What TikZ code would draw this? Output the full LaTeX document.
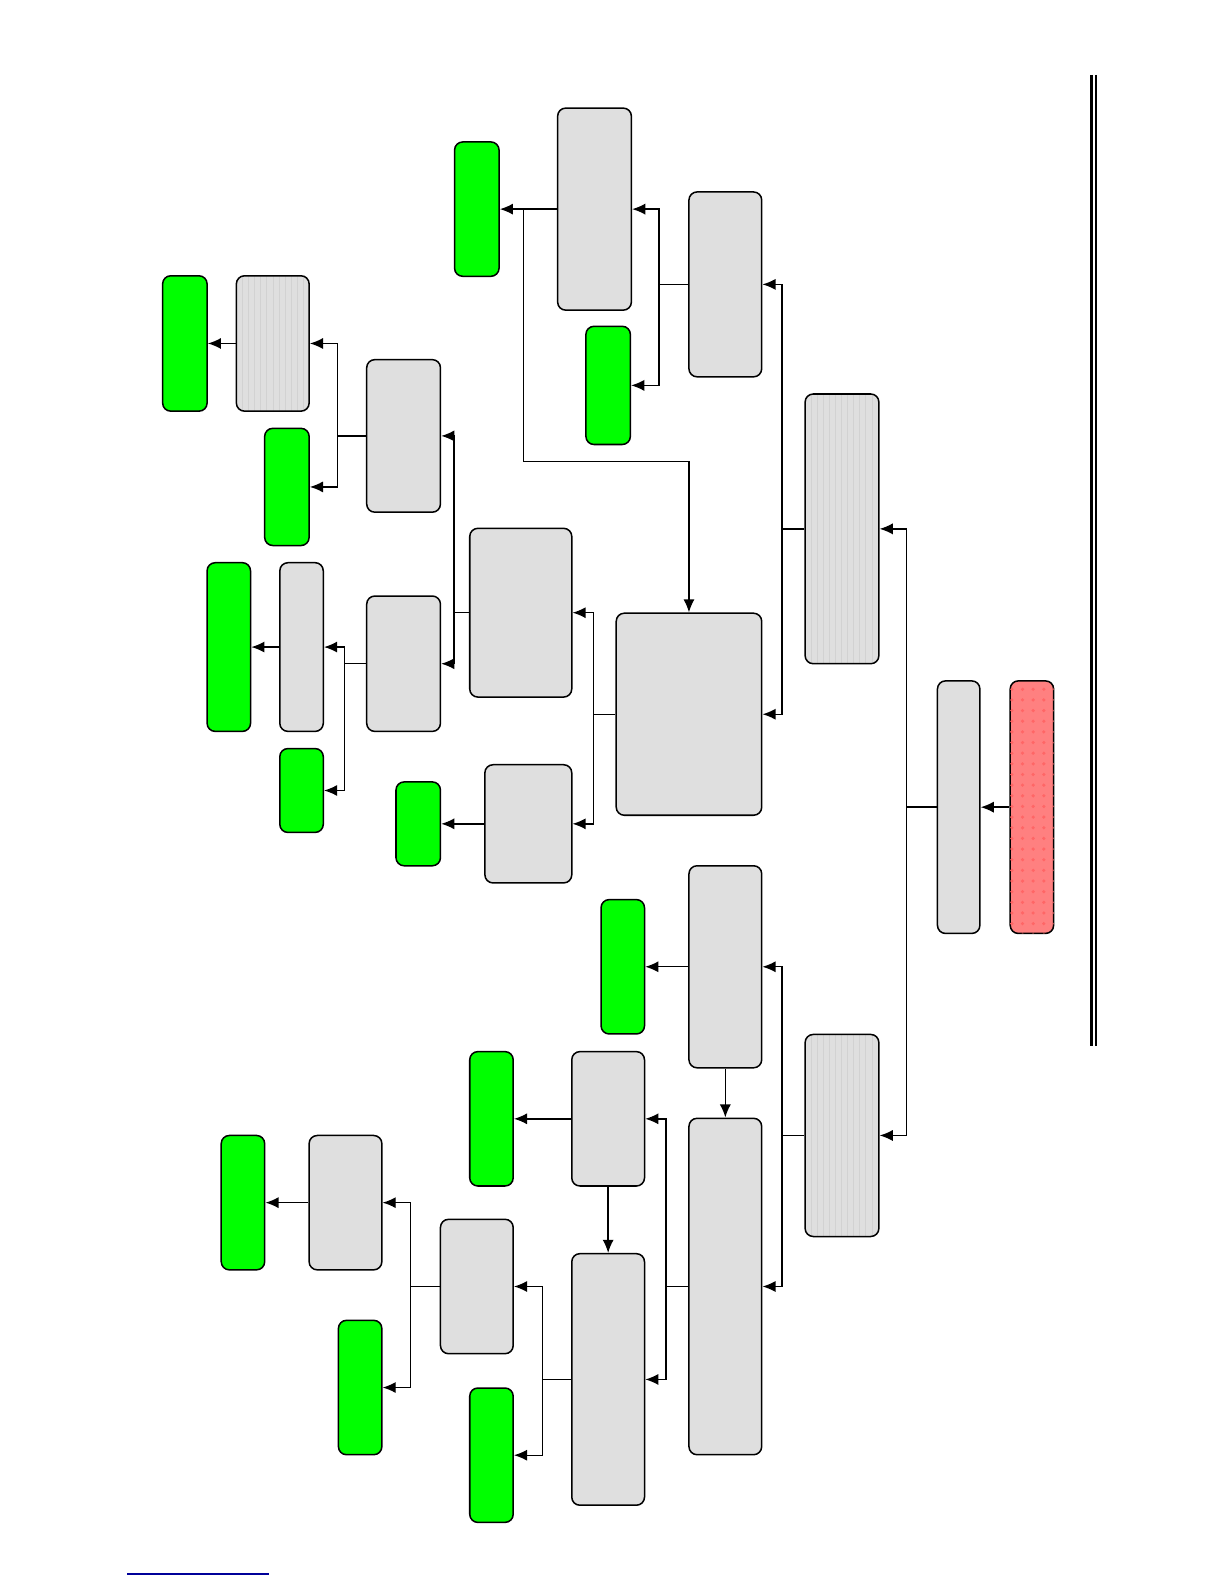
\documentclass[tikz,border=0pt]{standalone}
\usetikzlibrary{arrows.meta, patterns}

\tikzset{
  box/.style={draw=black, line width=0.15mm, rounded corners=0.8mm, inner sep=0pt},
  graybox/.style={box, fill=gray!25},
  greenbox/.style={box, fill=green},
  redbox/.style={box, fill=red!50,
    postaction={pattern=dots, pattern color=red!60}},
  stripebox/.style={box, fill=gray!25,
    path picture={
      \foreach \k in {1,...,12}
        \draw[gray!35, line width=0.05mm]
          ([xshift=\k*0.6mm]path picture bounding box.south west) --
          ([xshift=\k*0.6mm]path picture bounding box.north west);
    }},
  link/.style={line width=0.14mm, -{Latex[length=1.3mm, width=1.1mm]}},
  plainlink/.style={line width=0.14mm}
}

\begin{document}
\begin{tikzpicture}[x=0.1mm, y=-0.1mm]
  \useasboundingbox (0,0) rectangle (1212,1568);

  % root and source
  \node[redbox, minimum width=4.3mm, minimum height=25mm] (src) at (1021.5,799) {};
  \node[graybox, minimum width=4.2mm, minimum height=25mm] (root) at (949,799) {};

  % second level
  \node[stripebox, minimum width=7.3mm, minimum height=26.7mm] (upper) at (833.5,523.5) {};
  \node[stripebox, minimum width=7.3mm, minimum height=20mm] (lower) at (833.5,1124) {};

  % upper branch
  \node[graybox, minimum width=7.2mm, minimum height=18.3mm] (ua) at (718,281.5) {};
  \node[graybox, minimum width=14.4mm, minimum height=20mm] (ub) at (682,707) {};
  \node[graybox, minimum width=7.3mm, minimum height=20mm] (uaa) at (588.5,207) {};
  \node[greenbox, minimum width=4.4mm, minimum height=11.7mm] (uab) at (602,381.5) {};
  \node[greenbox, minimum width=4.4mm, minimum height=13.3mm] (uaaend) at (472,207) {};

  \node[graybox, minimum width=10.1mm, minimum height=16.7mm] (uba) at (515.5,606.5) {};
  \node[graybox, minimum width=8.6mm, minimum height=11.7mm] (ubb) at (523,815.5) {};
  \node[greenbox, minimum width=4.4mm, minimum height=8.3mm] (ubbend) at (414,815.5) {};

  \node[graybox, minimum width=7.3mm, minimum height=15.1mm] (ubaa) at (399.5,431.5) {};
  \node[graybox, minimum width=7.3mm, minimum height=13.4mm] (ubab) at (399.5,657) {};

  \node[stripebox, minimum width=7.2mm, minimum height=13.4mm] (ubaaa) at (270,340) {};
  \node[greenbox, minimum width=4.4mm, minimum height=13.4mm] (ubaaaend) at (183,340) {};
  \node[greenbox, minimum width=4.4mm, minimum height=11.6mm] (ubaab) at (284,482) {};

  \node[graybox, minimum width=4.3mm, minimum height=16.7mm] (ubaba) at (298.5,640.5) {};
  \node[greenbox, minimum width=4.3mm, minimum height=16.7mm] (ubabaend) at (226.5,640.5) {};
  \node[greenbox, minimum width=4.3mm, minimum height=8.3mm] (ubabb) at (298.5,782.5) {};

  % lower branch
  \node[graybox, minimum width=7.2mm, minimum height=20mm] (la) at (718,957) {};
  \node[greenbox, minimum width=4.3mm, minimum height=13.3mm] (laend) at (616.5,957) {};
  \node[graybox, minimum width=7.2mm, minimum height=33.3mm] (lb) at (718,1273.5) {};

  \node[graybox, minimum width=7.2mm, minimum height=13.3mm] (lba) at (602,1107.5) {};
  \node[greenbox, minimum width=4.3mm, minimum height=13.3mm] (lbaend) at (486.5,1107.5) {};
  \node[graybox, minimum width=7.2mm, minimum height=24.9mm] (lbb) at (602,1365.5) {};

  \node[graybox, minimum width=7.2mm, minimum height=13.3mm] (lbba) at (472,1273.5) {};
  \node[greenbox, minimum width=4.3mm, minimum height=13.3mm] (lbbb) at (486.5,1440.5) {};

  \node[graybox, minimum width=7.2mm, minimum height=13.3mm] (lbbaa) at (342,1190.5) {};
  \node[greenbox, minimum width=4.3mm, minimum height=13.3mm] (lbbaaend) at (240.5,1190.5) {};
  \node[greenbox, minimum width=4.3mm, minimum height=13.3mm] (lbbab) at (356.5,1373.5) {};

  % connectors
  \draw[link] (src.west) -- (root.east);
  \draw[plainlink] (root.west) -- ++(-30,0) coordinate (t0);
  \draw[link] (t0) |- (upper.east);
  \draw[link] (t0) |- (lower.east);

  \draw[plainlink] (upper.west) -- ++(-22,0) coordinate (t1);
  \draw[link] (t1) |- (ua.east);
  \draw[link] (t1) |- (ub.east);

  \draw[plainlink] (ua.west) -- ++(-29,0) coordinate (t2);
  \draw[link] (t2) |- (uaa.east);
  \draw[link] (t2) |- (uab.east);
  \draw[link] (uaa.west) -- (uaaend.east);
  \coordinate (split) at (518,207);
  \draw[link] (split) -- ++(0,250) -| (ub.north);

  \draw[plainlink] (ub.west) -- ++(-22,0) coordinate (t3);
  \draw[link] (t3) |- (uba.east);
  \draw[link] (t3) |- (ubb.east);
  \draw[link] (ubb.west) -- (ubbend.east);

  \draw[plainlink] (uba.west) -- ++(-15,0) coordinate (t4);
  \draw[link] (t4) |- (ubaa.east);
  \draw[link] (t4) |- (ubab.east);

  \draw[plainlink] (ubaa.west) -- ++(-28,0) coordinate (t5);
  \draw[link] (t5) |- (ubaaa.east);
  \draw[link] (t5) |- (ubaab.east);
  \draw[link] (ubaaa.west) -- (ubaaaend.east);

  \draw[plainlink] (ubab.west) -- ++(-21,0) coordinate (t6);
  \draw[link] (t6) |- (ubaba.east);
  \draw[link] (t6) |- (ubabb.east);
  \draw[link] (ubaba.west) -- (ubabaend.east);

  \draw[plainlink] (lower.west) -- ++(-22,0) coordinate (t7);
  \draw[link] (t7) |- (la.east);
  \draw[link] (t7) |- (lb.east);
  \draw[link] (la.west) -- (laend.east);
  \draw[link] (la.south) -- (lb.north);

  \draw[plainlink] (lb.west) -- ++(-22,0) coordinate (t8);
  \draw[link] (t8) |- (lba.east);
  \draw[link] (t8) |- (lbb.east);
  \draw[link] (lba.west) -- (lbaend.east);
  \draw[link] (lba.south) -- (lbb.north);

  \draw[plainlink] (lbb.west) -- ++(-28,0) coordinate (t9);
  \draw[link] (t9) |- (lbba.east);
  \draw[link] (t9) |- (lbbb.east);

  \draw[plainlink] (lbba.west) -- ++(-29,0) coordinate (t10);
  \draw[link] (t10) |- (lbbaa.east);
  \draw[link] (t10) |- (lbbab.east);
  \draw[link] (lbbaa.west) -- (lbbaaend.east);

  % page rules
  \draw[line width=0.3mm] (1080,74) -- (1080,1035);
  \draw[line width=0.15mm] (1085,74) -- (1085,1035);
  \draw[blue!60!black, line width=0.15mm] (126,1558) -- (266,1558);
\end{tikzpicture}
\end{document}
